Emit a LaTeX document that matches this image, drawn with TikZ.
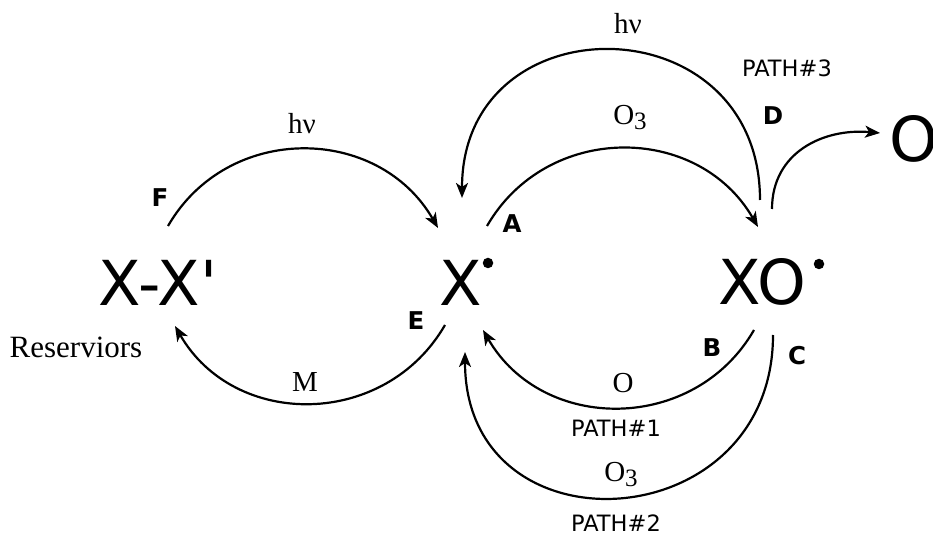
\documentclass[tikz,border=0pt]{standalone}
\usepackage{fontspec}
\setmainfont{Liberation Serif}
\newfontfamily\dv{DejaVu Sans}[Ligatures=TeXOff]
\usetikzlibrary{arrows.meta}
\newcommand\sbthree{\raisebox{-5pt}{\fontsize{25}{25}\selectfont 3}}
\begin{document}
\begin{tikzpicture}[x=1pt,y=1pt,
  big/.style={font=\dv\fontsize{62}{62}\selectfont, inner sep=0pt, anchor=base},
  lbl/.style={font=\dv\bfseries\fontsize{24.5}{24.5}\selectfont, inner sep=0pt, anchor=base},
  pathlbl/.style={font=\dv\fontsize{22.5}{22.5}\selectfont, inner sep=0pt, anchor=base},
  ser/.style={font=\fontsize{29}{29}\selectfont, inner sep=0pt, anchor=base},
  rad/.style={circle, fill=black, inner sep=0pt, minimum size=10.5pt},
  conn/.style={line width=2.2pt, -{Stealth[length=15pt,width=12pt,inset=4pt]}},
]
\useasboundingbox (0,0) rectangle (933,535);

% species
\node[big] (xx) at (158,229) {X-X'};
\node[big] (x) at (461,229) {X};
\node[rad] (xdot) at (488,272) {};
\node[big] (xo) at (762.5,230) {XO};
\node[rad] (xodot) at (819,271) {};
\node[big, anchor=base west] (o) at (889,373) {O};

% arc end points
\coordinate (f1) at (168,309); \coordinate (f2) at (438,307);
\coordinate (e1) at (445,210); \coordinate (e2) at (175,209);
\coordinate (a1) at (487,309); \coordinate (a2) at (758,308);
\coordinate (h1) at (760,335); \coordinate (h2) at (462,337);
\coordinate (b1) at (754,205); \coordinate (b2) at (483,205);
\coordinate (c1) at (773,200); \coordinate (c2) at (465,183);
\coordinate (d1) at (772,326); \coordinate (d2) at (880,402);

% connectors
\draw[conn] (f1) to[out=60,in=120,looseness=1.13] (f2);
\draw[conn] (e1) to[out=240,in=300,looseness=1.13] (e2);
\draw[conn] (a1) to[out=60,in=120,looseness=1.13] (a2);
\draw[conn] (h1) to[out=90,in=90,looseness=1.7] (h2);
\draw[conn] (b1) to[out=240,in=300,looseness=1.13] (b2);
\draw[conn] (c1) to[out=270,in=270,looseness=1.7] (c2);
\draw[conn] (d1) to[out=90,in=175,looseness=1.1] (d2);

% reaction labels
\node[ser] (hvl) at (302,401) {hν};
\node[ser] (hvt) at (628,501) {hν};
\node[ser] (o3t) at (630,410) {O\sbthree};
\node[ser] (m) at (305,143) {M};
\node[ser] (oo) at (623,142) {O};
\node[ser] (o3b) at (621,54) {O\sbthree};
\node[ser, font=\fontsize{31}{31}\selectfont] (res) at (76,177) {Reserviors};

% path labels
\node[pathlbl] (p1) at (616,98) {PATH\#1};
\node[pathlbl] (p2) at (616,4) {PATH\#2};
\node[pathlbl] (p3) at (787,458) {PATH\#3};

% letter labels
\node[lbl] (la) at (512,302) {A};
\node[lbl] (lb) at (712,178) {B};
\node[lbl] (lc) at (797,170) {C};
\node[lbl] (ld) at (773,410) {D};
\node[lbl] (le) at (416,205) {E};
\node[lbl] (lf) at (160,328) {F};
\end{tikzpicture}
\end{document}
